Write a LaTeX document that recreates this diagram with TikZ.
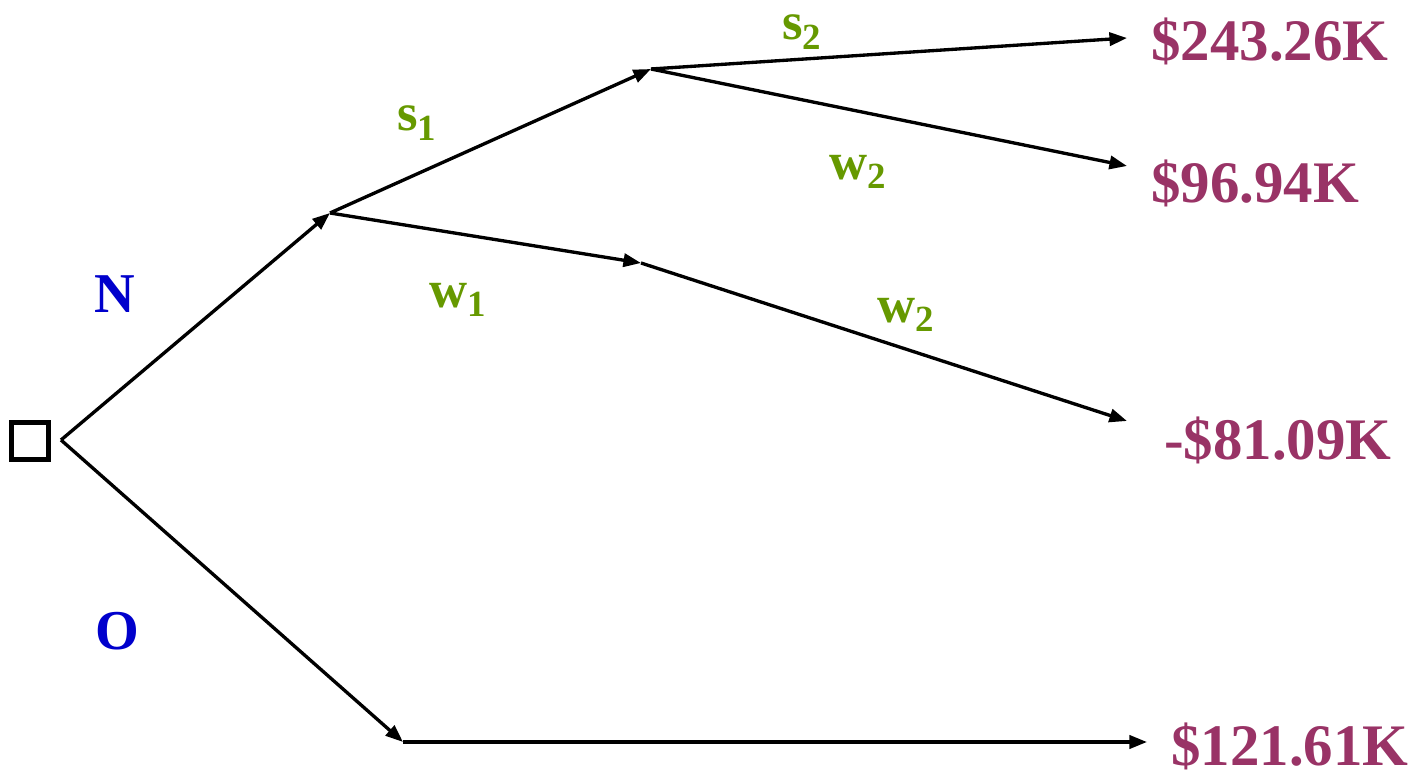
\documentclass[tikz,border=0pt]{standalone}
\usepackage{fontspec}
\setmainfont{Liberation Serif}
\usetikzlibrary{arrows.meta, positioning}

\definecolor{payoffred}{HTML}{993366}
\definecolor{stategreen}{HTML}{669900}
\definecolor{choiceblue}{HTML}{0000CC}

\begin{document}
\begin{tikzpicture}[
    x=0.02cm, y=-0.02cm,
    branch/.style={-{Triangle[length=10pt, width=7.5pt]}, line width=1.9pt, black},
    decbox/.style={rectangle, draw=black, line width=2.4pt, minimum size=0.74cm, inner sep=0pt},
    payoff/.style={anchor=west, inner sep=0pt, font=\fontsize{33.5}{36}\selectfont\bfseries, text=payoffred},
    choice/.style={inner sep=0pt, font=\fontsize{32}{34}\selectfont\bfseries, text=choiceblue},
    state/.style={inner sep=0pt, font=\fontsize{30}{33}\selectfont\bfseries, text=stategreen}
]
\useasboundingbox (0,0) rectangle (1412,776);

% Decision box and chance points
\node[decbox] (dec) at (30,441) {};
\coordinate (root) at (61,440);
\coordinate (n1) at (330,213);
\coordinate (n2) at (651,69);
\coordinate (n3) at (641,263);
\coordinate (n4) at (403,742);

% Arrow ends
\coordinate (e1) at (1127,38);
\coordinate (e2) at (1127,166);
\coordinate (e3) at (1127,421);
\coordinate (e4) at (1147,742);

% Branches
\draw[branch] (root) -- (n1);
\draw[branch] (n1) -- (n2);
\draw[branch] (n1) -- (n3);
\draw[branch] (n2) -- (e1);
\draw[branch] (n2) -- (e2);
\draw[branch] (n3) -- (e3);
\draw[branch] (root) -- (n4);
\draw[branch] (n4) -- (e4);

% Payoffs
\node[payoff] (p1) at (1151,41) {\$243.26K};
\node[payoff] (p2) at (1151,183) {\$96.94K};
\node[payoff] (p3) at (1164,440) {-\$81.09K};
\node[payoff] (p4) at (1171,746) {\$121.61K};

% Choice labels
\node[choice] (cN) at (115,294) {N};
\node[choice] (cO) at (117,631) {O};

% State labels
\node[state] (s1) at (417,123) {s\textsubscript{1}};
\node[state] (w1) at (458,300) {w\textsubscript{1}};
\node[state] (s2) at (802,32) {s\textsubscript{2}};
\node[state] (w2a) at (858,172) {w\textsubscript{2}};
\node[state] (w2b) at (906,315) {w\textsubscript{2}};

\end{tikzpicture}
\end{document}
